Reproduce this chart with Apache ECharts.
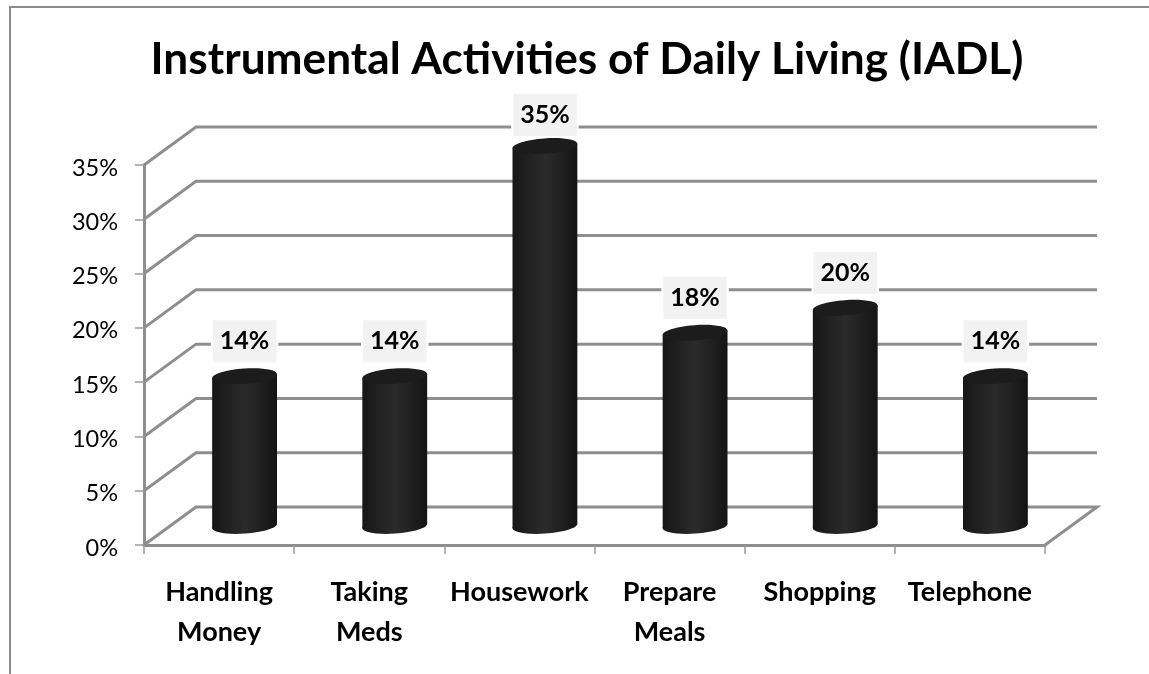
<!DOCTYPE html>
<html><head><meta charset="utf-8">
<style>html,body{margin:0;padding:0;background:#fff}#c{width:1149px;height:674px}</style>
<script src="https://cdn.jsdelivr.net/npm/echarts@6/dist/echarts.min.js"></script>
</head><body><div id="c"></div>
<script>
var titleText = 'Instrumental Activities of Daily Living (IADL)';
var categories = ['Handling\nMoney', 'Taking\nMeds', 'Housework', 'Prepare\nMeals', 'Shopping', 'Telephone'];
var values = [13.8, 13.8, 35, 17.8, 20.1, 13.8];
var yTicks = [0, 5, 10, 15, 20, 25, 30, 35];

var FONT = 'Lato, Carlito, Calibri, sans-serif';
var GRAY = '#8e8e8e';
var DX = 52, DY = 38;
var RX = 32.5, RY = 7.6, TILT = 0.07;
var chart = echarts.init(document.getElementById('c'), null, {renderer: 'canvas'});

function wallItem(params, api) {
  var v = api.value(0);
  var cs = params.coordSys;
  var y = api.coord([0, v])[1];
  var xl = cs.x, xr = cs.x + cs.width;
  var pts = v === 0
    ? [[xl, y], [xl + DX, y - DY], [xr + DX, y - DY], [xr, y]]
    : [[xl, y], [xl + DX, y - DY], [xr + DX, y - DY]];
  return {type: 'polyline', shape: {points: pts}, silent: true,
    style: {stroke: GRAY, lineWidth: 3, fill: null, lineJoin: 'miter'}};
}

function bodyFill() {
  return new echarts.graphic.LinearGradient(0, 0, 1, 0, [
    {offset: 0, color: '#161616'},
    {offset: 0.25, color: '#212121'},
    {offset: 0.5, color: '#2b2b2b'},
    {offset: 0.75, color: '#202020'},
    {offset: 1, color: '#141414'}
  ]);
}

function cylinderItem(params, api) {
  var i = api.value(0), v = api.value(1);
  var base = api.coord([i, 0]), top = api.coord([i, v]);
  var cx = base[0] + DX / 2 - 0.5;
  var by = base[1] - DY / 2, ty = top[1] - DY / 2;
  var ex = RX * Math.cos(TILT), ey = RX * Math.sin(TILT);
  var labelY = Math.max(115, ty - 35);
  return {type: 'group', silent: true, children: [
    {type: 'ellipse', shape: {cx: cx, cy: by, rx: RX, ry: RY},
      rotation: TILT, originX: cx, originY: by, style: {fill: bodyFill()}},
    {type: 'polygon', shape: {points: [[cx - ex, ty + ey], [cx + ex, ty - ey], [cx + ex, by - ey], [cx - ex, by + ey]]},
      style: {fill: bodyFill()}},
    {type: 'ellipse', shape: {cx: cx, cy: ty, rx: RX, ry: RY},
      rotation: TILT, originX: cx, originY: ty, style: {fill: '#1c1c1c'}},
    {type: 'text', z2: 10, style: {
      text: Math.round(v) + '%', x: cx, y: labelY, align: 'center', verticalAlign: 'middle',
      font: 'bold 25px ' + FONT, fill: '#000', lineHeight: 26,
      backgroundColor: '#f2f2f2', padding: [8, 7], borderColor: '#fff', borderWidth: 2
    }}
  ]};
}

chart.setOption({
  animation: false,
  backgroundColor: '#fff',
  title: {text: titleText, left: 582, top: 33, textAlign: 'center',
    textStyle: {fontFamily: FONT, fontWeight: 'bold', fontSize: 44.2, color: '#000'}},
  grid: {left: 144, right: 104, top: 165, bottom: 129, containLabel: false},
  xAxis: {type: 'category', data: categories, boundaryGap: true,
    axisLine: {lineStyle: {color: GRAY, width: 3}},
    axisTick: {show: true, alignWithLabel: false, length: 9, lineStyle: {color: '#9a9a9a', width: 1.5}},
    axisLabel: {interval: 0, margin: 27, fontFamily: FONT, fontWeight: 'bold', fontSize: 27, lineHeight: 40, color: '#000'},
    splitLine: {show: false}},
  yAxis: {type: 'value', min: 0, max: 35, interval: 5,
    axisLine: {show: true, lineStyle: {color: GRAY, width: 3}},
    axisTick: {show: true, length: 9, lineStyle: {color: '#9a9a9a', width: 1.5}},
    axisLabel: {margin: 26, verticalAlign: 'top', lineHeight: 6, fontFamily: FONT, fontSize: 23.5, color: '#000', formatter: '{value}%'},
    splitLine: {show: false}},
  graphic: [
    {type: 'polyline', silent: true, z: -1, shape: {points: [[10, 674], [10, 7], [1149, 7]]},
      style: {stroke: '#8c8c8c', lineWidth: 2, fill: null}}
  ],
  series: [
    {type: 'custom', name: 'wall', z: 1, renderItem: wallItem, clip: false,
      encode: {y: 0}, data: yTicks.map(function (t) { return [t]; })},
    {type: 'custom', name: 'IADL', z: 3, renderItem: cylinderItem, clip: false,
      encode: {x: 0, y: 1}, data: values.map(function (v, i) { return [i, v]; })}
  ]
});
</script></body></html>
